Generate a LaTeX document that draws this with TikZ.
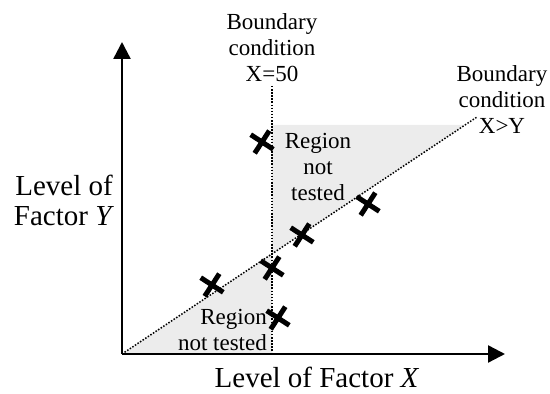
\documentclass[tikz,border=0pt]{standalone}
\usepackage{fontspec}
\setmainfont{Liberation Serif}
\usetikzlibrary{arrows.meta,shapes.misc}
\begin{document}
\begin{tikzpicture}[x=1pt,y=1pt,line join=round,>={Triangle[length=17pt,width=17pt]},
	lbl/.style={align=center,font=\fontsize{23}{26}\selectfont,inner sep=0pt},
	big/.style={align=center,font=\fontsize{29}{30}\selectfont,inner sep=0pt},
	dots/.style={line width=1.5pt,dash pattern=on 1.5pt off 1.6pt},
	xmark/.style={cross out,draw,line width=5pt,minimum size=14pt,inner sep=0pt,rotate=12}]
	\useasboundingbox (-122,-40) rectangle (428,354);
	\coordinate (O) at (0,0);
	\coordinate (B) at (150,0);
	\coordinate (D) at (355,237);
	\fill[gray!15] (O)--(150,100)--(B)--cycle;
	\fill[gray!15] (150,100)--(150,229)--(343,229)--cycle;
	\node[lbl,anchor=south] (b50) at (150,272) {Boundary\\condition\\X=50};
	\node[lbl] (bxy) at (380,254) {Boundary\\condition\\X>Y};
	\draw[dots] ([yshift=-4pt]b50.south)--(B);
	\draw[dots] (O)--(D);
	\draw[line width=2.4pt,->] (O)--(0,312);
	\draw[line width=2.4pt,->] (O)--(383,0);
	\node[big] (ly) at (-58,154) {Level of\\Factor \textit{Y}};
	\node[big,anchor=base] (lx) at (195,-34) {Level of Factor \textit{X}};
	\node[lbl] (r1) at (196,187) {Region\\not\\tested};
	\node[lbl,align=right,anchor=east] (r2) at (145,24) {Region\\not tested};
	\foreach \x/\y [count=\i] in {140/212,246/150,180/119,150/86,90/69,156/36}{\node[xmark] (m\i) at (\x,\y) {};}
\end{tikzpicture}
\end{document}
